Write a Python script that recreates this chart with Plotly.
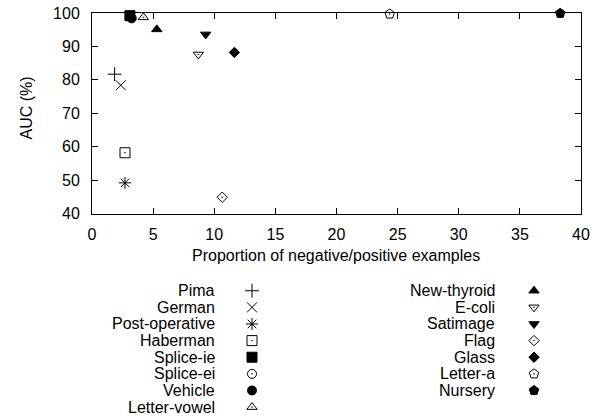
import plotly.graph_objects as go

# ---- data ----
names = ["Pima", "German", "Post-operative", "Haberman", "Splice-ie", "Splice-ei",
         "Vehicle", "Letter-vowel", "New-thyroid", "E-coli", "Satimage", "Flag",
         "Glass", "Letter-a", "Nursery"]
ratio = [1.85, 2.35, 2.7, 2.7, 3.1, 3.1, 3.25, 4.2, 5.3, 8.7, 9.3, 10.65, 11.65, 24.35, 38.3]
auc = [81.7, 78.4, 49.2, 58.2, 99.2, 98.8, 98.4, 98.7, 95.1, 87.6, 93.6, 44.9, 88.2, 99.7, 99.9]

x_ticks = [0, 5, 10, 15, 20, 25, 30, 35, 40]
y_ticks = [40, 50, 60, 70, 80, 90, 100]

# ---- styles ----
symbols = ["cross-thin-open", "x-thin-open", "asterisk-open", "square-open-dot", "square",
           "circle-open-dot", "circle", "triangle-up-open-dot", "triangle-up",
           "triangle-down-open-dot", "triangle-down", "diamond-open-dot", "diamond",
           "pentagon-open-dot", "pentagon"]
sizes = [10, 10, 10, 10, 10, 9, 9, 9, 9, 9, 9, 8, 8, 10, 10]

FONT = "Liberation Sans, Arial, sans-serif"
FS = 16
SY = 426 / 416          # vertical compensation
W, H = 608, round(416 * SY)
ML, MR = 92, 27
MT = round(13 * SY)
MB = 4


def py(v):
    return v * SY


plot_bottom = py(213)
ph = H - MT - MB
pw = W - ML - MR
ydom_bottom = (H - MB - plot_bottom) / ph
leg_top_frac = 0.45

fig = go.Figure()

for n, xv, yv, s, sz in zip(names, ratio, auc, symbols, sizes):
    fig.add_trace(go.Scatter(
        x=[xv], y=[yv], mode="markers", name=n, showlegend=False,
        marker=dict(symbol=s, size=sz, color="black",
                    line=dict(color="black", width=1)),
        cliponaxis=False, xaxis="x", yaxis="y"))

# ---- manual legend (two columns, text right-aligned then symbol) ----
row_y0, row_dy = 290, 16.6
cols = [(217, 252), (497, 534)]
annotations = []
for i, (n, s, sz) in enumerate(zip(names, symbols, sizes)):
    c = 0 if i < 8 else 1
    r = i if i < 8 else i - 8
    ty = py(row_y0 + r * row_dy)
    tx, sx = cols[c]
    fig.add_trace(go.Scatter(
        x=[sx], y=[ty], mode="markers", showlegend=False, hoverinfo="skip",
        marker=dict(symbol=s, size=sz, color="black", line=dict(color="black", width=1)),
        cliponaxis=False, xaxis="x2", yaxis="y2"))
    annotations.append(dict(x=tx, y=ty, xref="x2", yref="y2", text=n, showarrow=False,
                            xanchor="right", yanchor="middle",
                            font=dict(family=FONT, size=FS, color="black")))

annotations.append(dict(x=(336 - ML) / pw, y=(H - MB - py(255)) / ph, xref="paper", yref="paper",
                        text="Proportion of negative/positive examples", showarrow=False,
                        xanchor="center", yanchor="middle",
                        font=dict(family=FONT, size=FS, color="black")))
annotations.append(dict(x=(26 - ML) / pw, y=(H - MB - py(108)) / ph, xref="paper", yref="paper",
                        text="AUC (%)", showarrow=False, textangle=-90,
                        xanchor="center", yanchor="middle",
                        font=dict(family=FONT, size=FS, color="black")))

axis_common = dict(showline=True, linecolor="black", linewidth=1, mirror="ticks",
                   ticks="inside", ticklen=6, tickcolor="black", tickwidth=1,
                   showgrid=False, zeroline=False,
                   tickfont=dict(family=FONT, size=FS, color="black"))

fig.update_layout(
    width=W, height=H,
    margin=dict(l=ML, r=MR, t=MT, b=MB),
    paper_bgcolor="white", plot_bgcolor="white",
    font=dict(family=FONT, size=FS, color="black"),
    xaxis=dict(range=[0, 40], tickvals=x_ticks, ticklabelstandoff=6,
               domain=[0, 1], anchor="y", **axis_common),
    yaxis=dict(range=[40, 100], tickvals=y_ticks, ticklabelstandoff=8,
               domain=[ydom_bottom, 1], anchor="x", **axis_common),
    xaxis2=dict(range=[ML, W - MR], domain=[0, 1], anchor="y2", visible=False),
    yaxis2=dict(range=[H - MB, H - MB - leg_top_frac * ph], domain=[0, leg_top_frac],
                anchor="x2", visible=False),
    annotations=annotations,
    showlegend=False,
)

fig.write_html("out.html", config={"displayModeBar": False},
               post_script="document.body.style.margin='0';")
